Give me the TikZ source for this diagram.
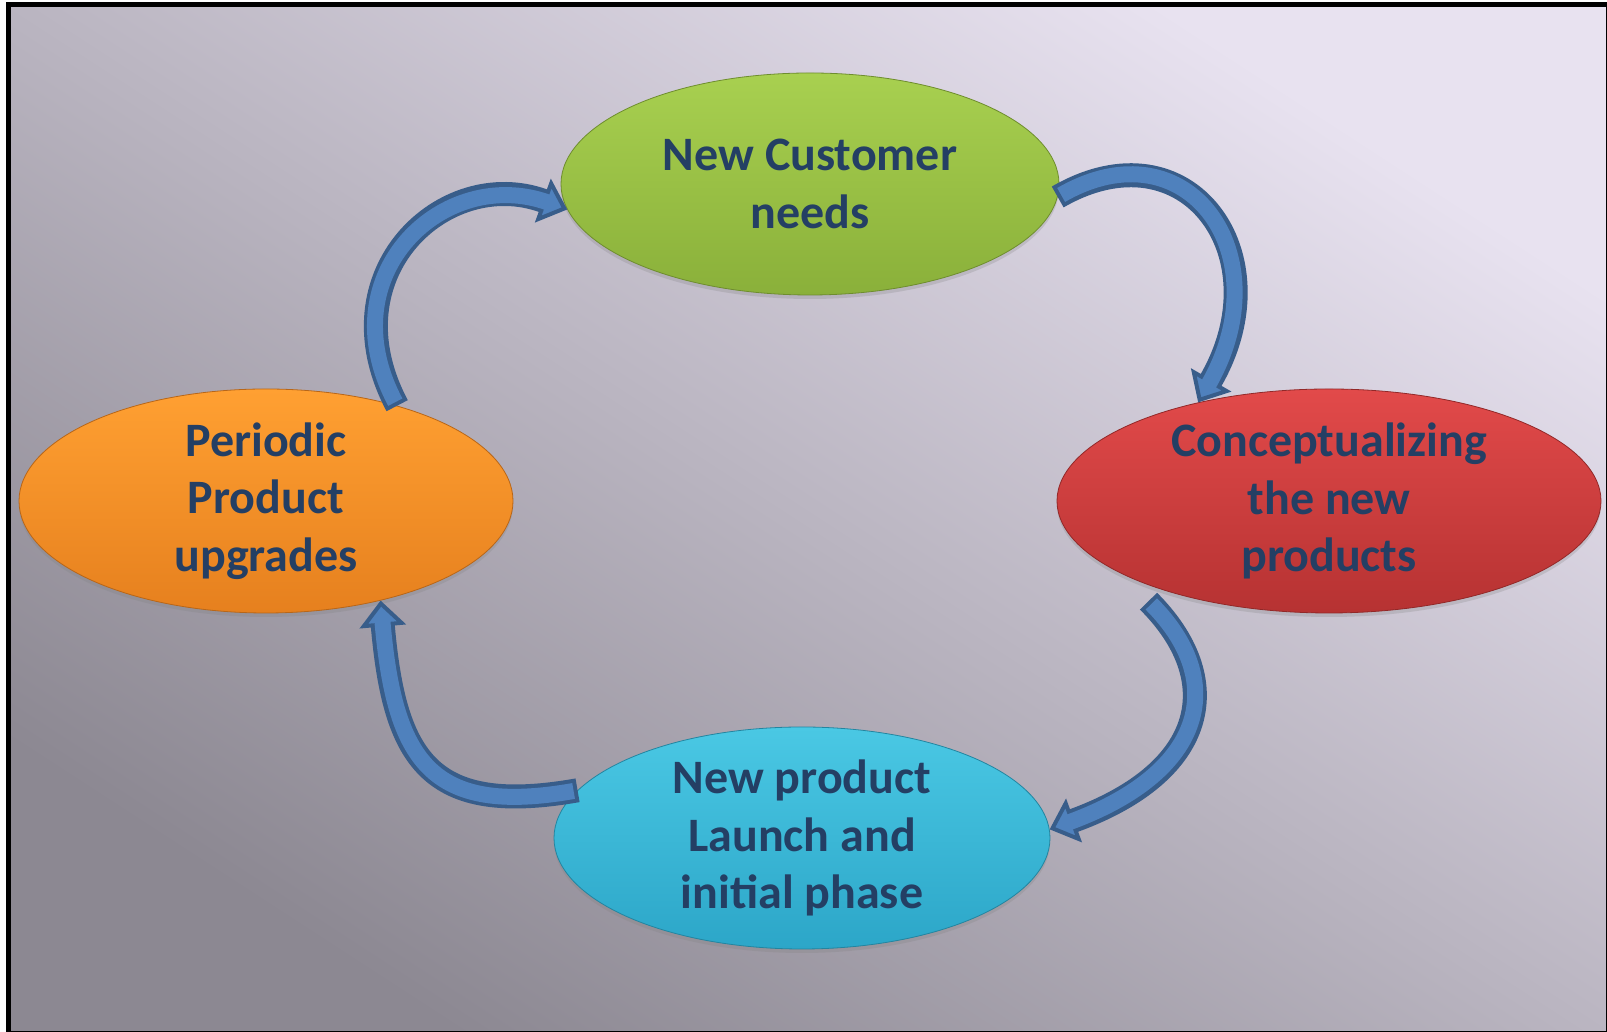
\documentclass[tikz,border=0pt]{standalone}
\usepackage{fontspec}
\setmainfont{Carlito}
\usetikzlibrary{shapes.geometric,arrows.meta,shadows}

\definecolor{bgdark}{RGB}{140,136,146}
\definecolor{bgmid}{RGB}{196,189,202}
\definecolor{bglight}{RGB}{232,226,240}
\definecolor{arrowblue}{RGB}{79,129,189}
\definecolor{arrowline}{RGB}{56,93,138}
\definecolor{stagetext}{RGB}{36,63,100}
\definecolor{greentop}{RGB}{168,208,80}
\definecolor{greenbot}{RGB}{138,176,58}
\definecolor{redtop}{RGB}{226,74,74}
\definecolor{redbot}{RGB}{182,50,50}
\definecolor{orangetop}{RGB}{255,160,50}
\definecolor{orangebot}{RGB}{230,128,30}
\definecolor{cyantop}{RGB}{74,200,228}
\definecolor{cyanbot}{RGB}{44,166,200}

\begin{document}
\begin{tikzpicture}[x=1pt,y=1pt,
    stage/.style={ellipse, inner sep=0pt, align=center, text=stagetext,
      font=\fontsize{48}{57.5}\selectfont\bfseries, line width=0.8pt,
      drop shadow={opacity=0.25, shadow xshift=0pt, shadow yshift=-4pt}},
    cycline/.style={draw=arrowline, line width=24pt,
      -{Triangle[length=26pt, width=46pt, fill=arrowblue, color=arrowline, line width=4pt]}},
    cycfill/.style={draw=arrowblue, line width=16pt, shorten <=4pt, shorten >=20pt}]

    \useasboundingbox (0,0) rectangle (1607,1032);

    % Background with frame
    \shade[bottom color=bgdark, middle color=bgmid, top color=bglight, shading angle=-33]
      (8.5,1027.5) rectangle (1608.5,-1.5);
    \draw[line width=5pt, black] (8.5,1027.5) rectangle (1608.5,-1.5);

    % Stages of the cycle
    \node[stage, minimum width=498pt, minimum height=222pt, top color=greentop, bottom color=greenbot, draw=greenbot!80!black]
      (needs) at (810,848) {New Customer\\needs};
    \node[stage, minimum width=544pt, minimum height=224pt, top color=redtop, bottom color=redbot, draw=redbot!80!black]
      (concept) at (1329,531) {Conceptualizing\\the new\\products};
    \node[stage, minimum width=496pt, minimum height=222pt, top color=cyantop, bottom color=cyanbot, draw=cyanbot!80!black]
      (launch) at (802,194) {New product\\Launch and\\initial phase};
    \node[stage, minimum width=494pt, minimum height=224pt, top color=orangetop, bottom color=orangebot, draw=orangebot!80!black]
      (upgrade) at (266,531) {Periodic\\Product\\upgrades};

    % Arrows (outline first, then the blue body)
    % upgrades -> needs
    \draw[cycline] (upgrade.36) .. controls +(118:150) and +(160:130) .. (needs.186);
    \draw[cycfill] (upgrade.36) .. controls +(118:150) and +(160:130) .. (needs.186);
    % needs -> concept
    \draw[cycline] (needs.-3) .. controls +(30:150) and +(60:170) .. (concept.143);
    \draw[cycfill] (needs.-3) .. controls +(30:150) and +(60:170) .. (concept.143);
    % concept -> launch
    \draw[cycline] ([yshift=-16pt]concept.205) .. controls +(-45:110) and +(20:170) .. (launch.2);
    \draw[cycfill] ([yshift=-16pt]concept.205) .. controls +(-45:110) and +(20:170) .. (launch.2);
    % launch -> upgrades
    \draw[cycline] (launch.168) .. controls +(190:150) and +(-85:160) .. (upgrade.-41);
    \draw[cycfill] (launch.168) .. controls +(190:150) and +(-85:160) .. (upgrade.-41);

\end{tikzpicture}
\end{document}
